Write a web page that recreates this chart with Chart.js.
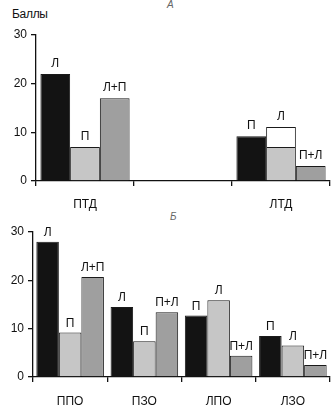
<!DOCTYPE html>
<html>
<head>
<meta charset="utf-8">
<script src="https://cdn.jsdelivr.net/npm/chart.js@4/dist/chart.umd.min.js"></script>
<style>
  body { margin: 0; background: #fff; }
  #wrap { position: relative; width: 331px; height: 407px; font-family: "Liberation Sans", Arial, sans-serif; color: #111; }
  .cv { position: absolute; left: 0; }
  .note { position: absolute; font-size: 12px; letter-spacing: -0.3px; }
  .panel { position: absolute; font-size: 10px; font-style: italic; color: #666; }
</style>
</head>
<body>
<div id="wrap">
  <div class="panel" style="left:167px; top:-1px;">А</div>
  <div class="note" style="left:12px; top:7px;">Баллы</div>
  <div class="panel" style="left:170px; top:211px;">Б</div>
  <canvas id="chartA" class="cv" style="top:0" width="331" height="215"></canvas>
  <canvas id="chartB" class="cv" style="top:215px" width="331" height="192"></canvas>
</div>
<script>
/* Two grouped bar panels: А (tests) and Б (groups) */

const FONT = '"Liberation Sans", Arial, sans-serif';
const BLACK = '#131313';
const LIGHT = '#c6c6c6';
const GRAY = '#9f9f9f';

// Panel А
const groupsA = ['ПТД', '', 'ЛТД'];
const blackA = [22, null, 9.2];
const lightA = [7, null, 7];
const whiteA = [null, null, 4.1];   // stacked on top of the light bar
const grayA = [17, null, 3.1];
const blackTagsA = ['Л', '', 'П'];
const lightTagsA = ['П', '', ''];
const whiteTagsA = ['', '', 'Л'];
const grayTagsA = ['Л+П', '', 'П+Л'];

// Panel Б
const groupsB = ['ППО', 'ПЗО', 'ЛПО', 'ЛЗО'];
const blackB = [28, 14.5, 12.7, 8.5];
const lightB = [9.2, 7.4, 15.9, 6.5];
const grayB = [20.7, 13.4, 4.4, 2.5];
const blackTagsB = ['Л', 'Л', 'П', 'П'];
const lightTagsB = ['П', 'П', 'Л', 'Л'];
const grayTagsB = ['Л+П', 'П+Л', 'П+Л', 'П+Л'];

const yTicks = [0, 10, 20, 30];

// writes the short tag above each bar (top of stack for stacked ones)
const barTags = {
  id: 'barTags',
  afterDatasetsDraw(chart, args, opts) {
    const ctx = chart.ctx;
    ctx.save();
    ctx.font = '12px ' + FONT;
    ctx.fillStyle = '#111';
    ctx.textAlign = 'center';
    ctx.textBaseline = 'alphabetic';
    chart.data.datasets.forEach((ds, di) => {
      const meta = chart.getDatasetMeta(di);
      meta.data.forEach((bar, i) => {
        const t = ds.tags && ds.tags[i];
        if (!t || ds.data[i] == null) return;
        ctx.fillText(t, bar.x, bar.y - opts.gap);
      });
    });
    ctx.restore();
  }
};

function barSet(data, color, tags, stack) {
  return {
    data, tags, stack,
    backgroundColor: color,
    borderColor: '#1a1a1a',
    borderWidth: 1,
    borderSkipped: 'bottom',
    barPercentage: 1,
    categoryPercentage: 0.91
  };
}

function makeChart(id, labels, datasets, yWidth, xHeight, padTop, labelPad, gap) {
  return new Chart(document.getElementById(id), {
    type: 'bar',
    data: { labels, datasets },
    plugins: [barTags],
    options: {
      responsive: false,
      animation: false,
      layout: { padding: { top: padTop, right: 1, left: 0, bottom: 0 } },
      plugins: { legend: { display: false }, tooltip: { enabled: false }, barTags: { gap } },
      scales: {
        x: {
          stacked: true,
          grid: { drawOnChartArea: false, offset: true, tickLength: 5, color: '#111', lineWidth: 1.3 },
          border: { color: '#111', width: 1.3 },
          ticks: { color: '#111', font: { family: FONT, size: 12 }, padding: labelPad, maxRotation: 0 },
          afterFit(s) { s.height = xHeight; }
        },
        y: {
          stacked: true,
          min: 0, max: 30,
          afterBuildTicks(s) { s.ticks = yTicks.map(v => ({ value: v })); },
          grid: { drawOnChartArea: false, tickLength: 5, color: '#111', lineWidth: 1.3 },
          border: { color: '#111', width: 1.3 },
          ticks: { color: '#111', font: { family: FONT, size: 12 }, padding: 4 },
          afterFit(s) { s.width = yWidth; }
        }
      }
    }
  });
}

makeChart('chartA', groupsA, [
  barSet(blackA, BLACK, blackTagsA, 'a'),
  barSet(lightA, LIGHT, lightTagsA, 'b'),
  barSet(whiteA, '#ffffff', whiteTagsA, 'b'),
  barSet(grayA, GRAY, grayTagsA, 'c')
], 36, 34, 35, 11, 7);

makeChart('chartB', groupsB, [
  barSet(blackB, BLACK, blackTagsB, 'a'),
  barSet(lightB, LIGHT, lightTagsB, 'b'),
  barSet(grayB, GRAY, grayTagsB, 'c')
], 33, 30, 17, 12, 6);
</script>
</body>
</html>
